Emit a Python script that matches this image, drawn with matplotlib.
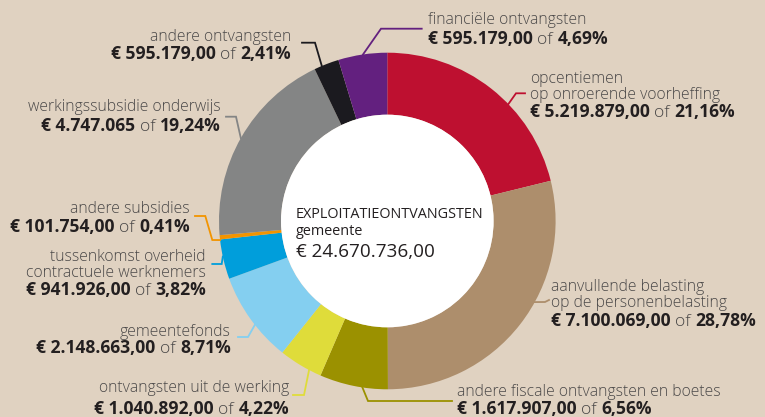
import numpy as np
import matplotlib
matplotlib.use("Agg")
import matplotlib.pyplot as plt
from matplotlib.patches import Circle

# ---------------- data ----------------
categories = [
    "opcentiemen\nop onroerende voorheffing",
    "aanvullende belasting\nop de personenbelasting",
    "andere fiscale ontvangsten en boetes",
    "ontvangsten uit de werking",
    "gemeentefonds",
    "tussenkomst overheid\ncontractuele werknemers",
    "andere subsidies",
    "werkingssubsidie onderwijs",
    "andere ontvangsten",
    "financiële ontvangsten",
]
amounts = [
    "€ 5.219.879,00", "€ 7.100.069,00", "€ 1.617.907,00", "€ 1.040.892,00",
    "€ 2.148.663,00", "€ 941.926,00", "€ 101.754,00", "€ 4.747.065",
    "€ 595.179,00", "€ 595.179,00",
]
percentages = [21.16, 28.78, 6.56, 4.22, 8.71, 3.82, 0.41, 19.24, 2.41, 4.69]
pct_labels = ["21,16%", "28,78%", "6,56%", "4,22%", "8,71%", "3,82%",
              "0,41%", "19,24%", "2,41%", "4,69%"]
center_title = "EXPLOITATIEONTVANGSTEN"
center_sub = "gemeente"
center_total = "€ 24.670.736,00"

# ---------------- style ----------------
colors = ["#BE1030", "#AD8E6C", "#9B9100", "#DFDC3A", "#84CFF0",
          "#009EDB", "#F29400", "#848585", "#1B1A1F", "#63207F"]
BG = "#E0D2C1"
TXT_LIGHT = "#4A4848"
TXT_BOLD = "#231F20"
FONT = "Open Sans"
TITLE_SIZE = 11.3
VALUE_SIZE = 12.6

W_PX, H_PX = 765, 417
CX, CY, R, RING = 387.3, 221.0, 168.3, 62.0

# layout: anchor angle (deg clockwise from top), leader path (px),
# text x, baseline of last title line, baseline of value line
layout = [
    dict(ang=46.0, path=[(516, 93.3), (525, 93.3)], x=530, t=99, v=117, ha="left"),
    dict(ang=118.8, path=[(545, 302), (549, 300)], x=551, t=307, v=326, ha="left"),
    dict(ang=188.5, path=[(368, 401), (452, 401)], x=457, t=396, v=413.5, ha="left"),
    dict(ang=207.7, path=[(304, 395), (293, 395)], x=289, t=392, v=413.5, ha="right"),
    dict(ang=231.9, path=[(248, 337), (238, 337)], x=231, t=336, v=353, ha="right"),
    dict(ang=257.8, path=[(221.7, 264), (212.3, 264)], x=206, t=277, v=295, ha="right"),
    dict(ang=263.5, path=[(212.3, 240), (205.3, 216), (195, 216)], x=190, t=213, v=232, ha="right"),
    dict(ang=299.5, path=[(236, 116.7), (226, 116.7)], x=221, t=111, v=131, ha="right"),
    dict(ang=337.1, path=[(315, 42.7), (302, 42.7)], x=291, t=41, v=59, ha="right"),
    dict(ang=351.7, path=[(381, 28.7), (421.7, 28.7)], x=428, t=24, v=44, ha="left"),
]

fig = plt.figure(figsize=(W_PX / 100, H_PX / 100), dpi=100, facecolor=BG)
ax = fig.add_axes([0, 0, 1, 1])
ax.set_facecolor(BG)

def P(px, py):
    return px, H_PX - py

ax.pie(percentages, colors=colors, startangle=90, counterclock=False,
       center=P(CX, CY), radius=R,
       wedgeprops=dict(width=RING, linewidth=0, antialiased=True))
ax.add_patch(Circle(P(CX, CY), R - RING, facecolor="white", edgecolor="none", zorder=3))
ax.set_xlim(0, W_PX)
ax.set_ylim(0, H_PX)
ax.set_aspect("auto")
ax.axis("off")

renderer = fig.canvas.get_renderer()

def width_of(t):
    return t.get_window_extent(renderer).width

def mixed_line(x, y, pieces, ha):
    objs = []
    for s, wgt, sz, col in pieces:
        objs.append(ax.text(0, 0, s, fontsize=sz, fontweight=wgt, color=col,
                            family=FONT, va="baseline", ha="left", zorder=5))
    widths = [width_of(o) for o in objs]
    gap = 4.5
    total = sum(widths) + gap * (len(objs) - 1)
    start = x if ha == "left" else x - total
    cur = start
    for o, w in zip(objs, widths):
        o.set_position(P(cur, y))
        cur += w + gap

for i, lay in enumerate(layout):
    a = np.deg2rad(lay["ang"])
    sx, sy = CX + R * np.sin(a), CY - R * np.cos(a)
    pts = [(sx, sy)] + lay["path"]
    xs = [p[0] for p in pts]
    ys = [H_PX - p[1] for p in pts]
    ax.plot(xs, ys, color=colors[i], lw=1.3, solid_joinstyle="miter", zorder=4)
    ax.text(*P(lay["x"], lay["t"]), categories[i], fontsize=TITLE_SIZE, fontweight="light",
            color=TXT_LIGHT, family=FONT, ha=lay["ha"], ma=lay["ha"], va="baseline",
            linespacing=0.96, zorder=5)
    mixed_line(lay["x"], lay["v"],
               [(amounts[i], "bold", VALUE_SIZE, TXT_BOLD),
                ("of", "light", VALUE_SIZE, TXT_LIGHT),
                (pct_labels[i], "bold", VALUE_SIZE, TXT_BOLD)], lay["ha"])

ax.text(*P(296, 218), center_title, fontsize=10.4, color=TXT_BOLD, family=FONT,
        ha="left", va="baseline", zorder=6)
ax.text(*P(296, 235), center_sub, fontsize=10.4, color=TXT_BOLD, family=FONT,
        ha="left", va="baseline", zorder=6)
ax.text(*P(296, 257), center_total, fontsize=13.6, color=TXT_BOLD, family=FONT,
        ha="left", va="baseline", zorder=6)

fig.savefig("out.png", dpi=100, facecolor=BG)
